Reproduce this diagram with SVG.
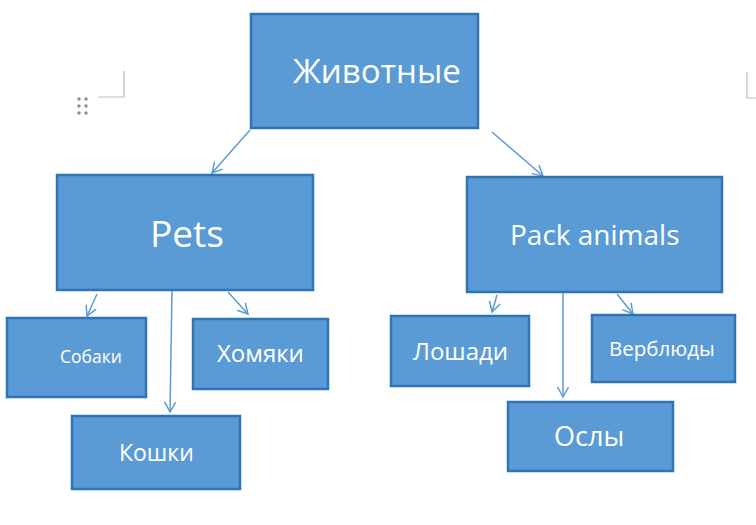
<svg xmlns="http://www.w3.org/2000/svg" width="756" height="525" viewBox="0 0 756 525">
<defs>
<marker id="arr" markerUnits="userSpaceOnUse" markerWidth="14" markerHeight="14" viewBox="0 0 14 14" refX="12" refY="7" orient="auto">
<path d="M2,1.5 L12,7 L2,12.5" fill="none" stroke="#5B9BD5" stroke-width="1.5"/>
</marker>
</defs>
<style>
.box{fill:#5B9BD5;stroke:#2E75B6;stroke-width:2.5}
.t{fill:#FFFFFF;font-family:"Open Sans","Noto Sans","DejaVu Sans",sans-serif}
.c{fill:none;stroke:#5B9BD5;stroke-width:1.5;marker-end:url(#arr)}
.mark{fill:none;stroke:#BFBFBF;stroke-width:1.2}
</style>
<rect width="756" height="525" fill="#FFFFFF"/>
<g id="artifacts">
<path class="mark" d="M124,71 V97 H98"/>
<path class="mark" d="M747,72 V98 H756"/>
<g fill="#8C8C8C">
<circle cx="79" cy="99" r="1.7"/><circle cx="86" cy="99" r="1.7"/>
<circle cx="79" cy="106" r="1.7"/><circle cx="86" cy="106" r="1.7"/>
<circle cx="79" cy="113" r="1.7"/><circle cx="86" cy="113" r="1.7"/>
</g>
</g>
<g id="connectors">
<line class="c" x1="250" y1="130" x2="212" y2="173"/>
<line class="c" x1="492" y1="132" x2="543" y2="176"/>
<line class="c" x1="97" y1="294" x2="87" y2="316"/>
<line class="c" x1="172" y1="291" x2="170" y2="412"/>
<line class="c" x1="228" y1="292" x2="248" y2="314"/>
<line class="c" x1="497" y1="295" x2="492" y2="312"/>
<line class="c" x1="563" y1="293" x2="563" y2="397"/>
<line class="c" x1="617" y1="294" x2="633" y2="314"/>
</g>
<g id="n-animals">
<rect class="box" x="251" y="14" width="227" height="114"/>
<text class="t" x="293" y="83" font-size="33">Животные</text>
</g>
<g id="n-pets">
<rect class="box" x="57" y="175" width="256" height="115"/>
<text class="t" x="150" y="247" font-size="37">Pets</text>
</g>
<g id="n-pack">
<rect class="box" x="467" y="177" width="255" height="115"/>
<text class="t" x="510" y="245" font-size="28">Pack animals</text>
</g>
<g id="n-dogs">
<rect class="box" x="7" y="318" width="139" height="79"/>
<text class="t" x="60" y="363" font-size="17.5">Собаки</text>
</g>
<g id="n-hamsters">
<rect class="box" x="193" y="319" width="135" height="70"/>
<text class="t" x="217" y="362" font-size="24">Хомяки</text>
</g>
<g id="n-cats">
<rect class="box" x="72" y="416" width="168" height="73"/>
<text class="t" x="119" y="461" font-size="23">Кошки</text>
</g>
<g id="n-horses">
<rect class="box" x="391" y="316" width="138" height="70"/>
<text class="t" x="413" y="360" font-size="24">Лошади</text>
</g>
<g id="n-camels">
<rect class="box" x="592" y="315" width="143" height="67"/>
<text class="t" x="609" y="356" font-size="20.5">Верблюды</text>
</g>
<g id="n-donkeys">
<rect class="box" x="508" y="402" width="165" height="69"/>
<text class="t" x="554" y="446" font-size="27">Ослы</text>
</g>
</svg>
